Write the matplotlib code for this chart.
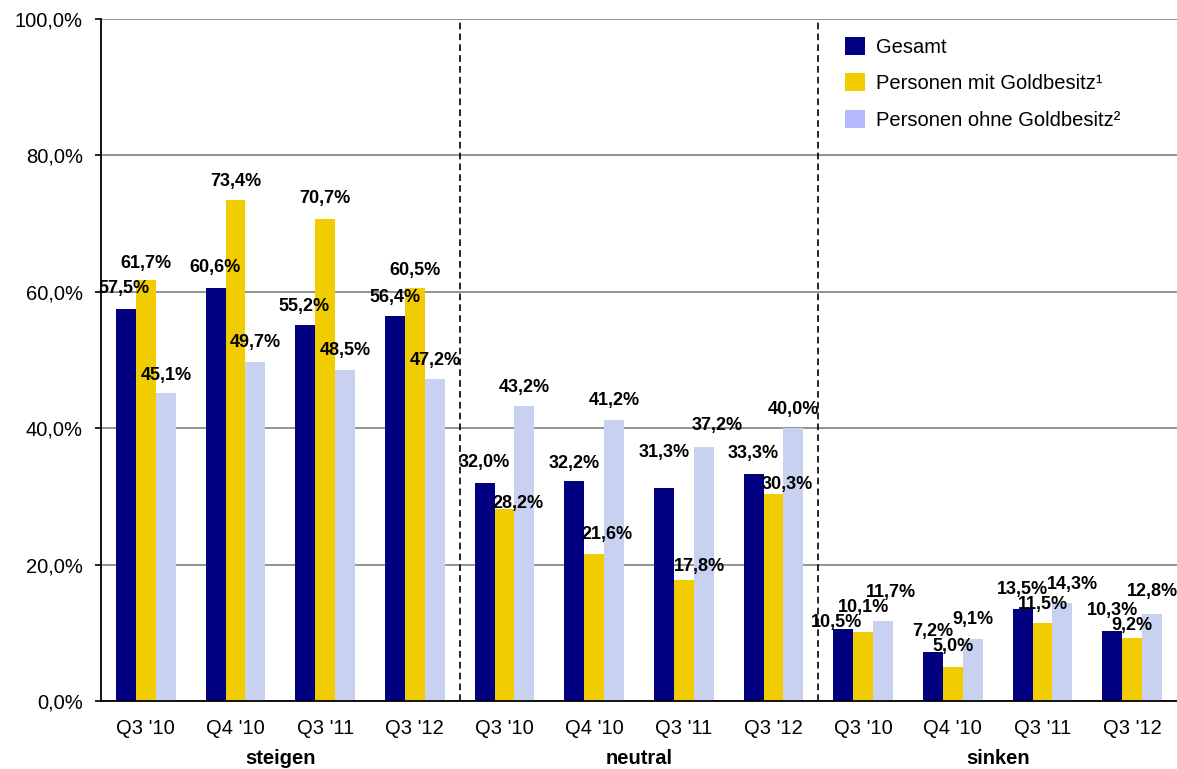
import matplotlib
matplotlib.use('Agg')
import matplotlib.pyplot as plt
import numpy as np
from matplotlib.patches import Patch

plt.rcParams['font.family'] = ['Liberation Sans', 'DejaVu Sans']

# ---- data ----
quarters = ["Q3 '10", "Q4 '10", "Q3 '11", "Q3 '12"]
groups = ["steigen", "neutral", "sinken"]
series_names = ["Gesamt", "Personen mit Goldbesitz¹", "Personen ohne Goldbesitz²"]
gesamt = [57.5, 60.6, 55.2, 56.4, 32.0, 32.2, 31.3, 33.3, 10.5, 7.2, 13.5, 10.3]
mit_gold = [61.7, 73.4, 70.7, 60.5, 28.2, 21.6, 17.8, 30.3, 10.1, 5.0, 11.5, 9.2]
ohne_gold = [45.1, 49.7, 48.5, 47.2, 43.2, 41.2, 37.2, 40.0, 11.7, 9.1, 14.3, 12.8]

# ---- label offsets (pixels, relative to bar top centre) ----
dx_offsets = [
    [-2, -1, -1, 0, 0, 0, 0, 0, -7, 0, 0, 0],
    [0, 0, 0, 0, 13, 13, 16, 14, 0, 0, 0, 0],
    [0, 0, 0, 0, 0, 0, 13, 0, 8, 0, 10, 0],
]
dy_offsets = [
    [22, 22, 20, 21, 22, 20, 37, 22, 9, 22, 21, 22],
    [19, 21, 22, 20, 7, 21, 15, 12, 27, 22, 20, 15],
    [20, 22, 22, 21, 21, 21, 24, 21, 31, 21, 21, 24],
]

colors = ['#000080', '#F0CC00', '#C8D2F0']
legend_colors = ['#000080', '#F0CC00', '#B4B8FC']

W, H = 1177, 769
fig = plt.figure(figsize=(W / 100, H / 100), dpi=100)
ax = fig.add_axes([101 / W, (769 - 701) / H, (1177 - 101) / W, (701 - 19) / H])

n = len(gesamt)
x = np.arange(n)
bw = 0.223
series = [gesamt, mit_gold, ohne_gold]
for k, (vals, col) in enumerate(zip(series, colors)):
    ax.bar(x + (k - 1) * bw, vals, width=bw, color=col, edgecolor='none',
           zorder=3, label=series_names[k])

# value labels
cap_half = 13 / 72 * 100 * 0.716 / 2
for k, vals in enumerate(series):
    for i, v in enumerate(vals):
        ax.annotate(f"{v:.1f}%".replace('.', ','),
                    xy=(x[i] + (k - 1) * bw, v),
                    xytext=(dx_offsets[k][i], dy_offsets[k][i] - cap_half),
                    textcoords='offset pixels', ha='center', va='baseline',
                    fontsize=13, fontweight='bold', color='black', zorder=5,
                    annotation_clip=False)

ax.set_xlim(-0.5, n - 0.5)
ax.set_ylim(0, 100)
ax.set_yticks(np.arange(0, 101, 20))
ax.set_yticklabels([f"{t:.1f}%".replace('.', ',') for t in np.arange(0, 101, 20)],
                   fontsize=14.5)
ax.yaxis.grid(True, color='#808080', linewidth=1.2, zorder=1)
ax.set_axisbelow(True)
ax.tick_params(axis='y', length=4, width=1.2, pad=9)

ax.set_xticks(x)
ax.set_xticklabels(quarters * len(groups), fontsize=14.5)
ax.tick_params(axis='x', length=0, pad=13)

for s in ['top', 'right']:
    ax.spines[s].set_visible(False)
ax.spines['left'].set_linewidth(1.3)
ax.spines['bottom'].set_linewidth(1.3)
ax.spines['left'].set_zorder(4)
ax.spines['bottom'].set_zorder(4)

# separators
for b in [3.5, 7.5]:
    ax.axvline(b, color='black', linestyle=(0, (4, 2.5)), linewidth=1.2, zorder=4)

# group labels
for g, name in enumerate(groups):
    ax.text(g * 4 + 1.5, -8.4, name, ha='center', va='center', fontsize=14.5,
            fontweight='bold', transform=ax.transData)

# legend
handles = [Patch(facecolor=c, edgecolor='none') for c in legend_colors]
fig.legend(handles, series_names, loc='upper left',
           bbox_to_anchor=(845 / W, 1 - 37 / H), bbox_transform=fig.transFigure,
           frameon=False, fontsize=14.5, handlelength=1.0, handleheight=1.0,
           handletextpad=0.55, labelspacing=0.82, borderpad=0, borderaxespad=0)

fig.savefig('out.png', dpi=100)
